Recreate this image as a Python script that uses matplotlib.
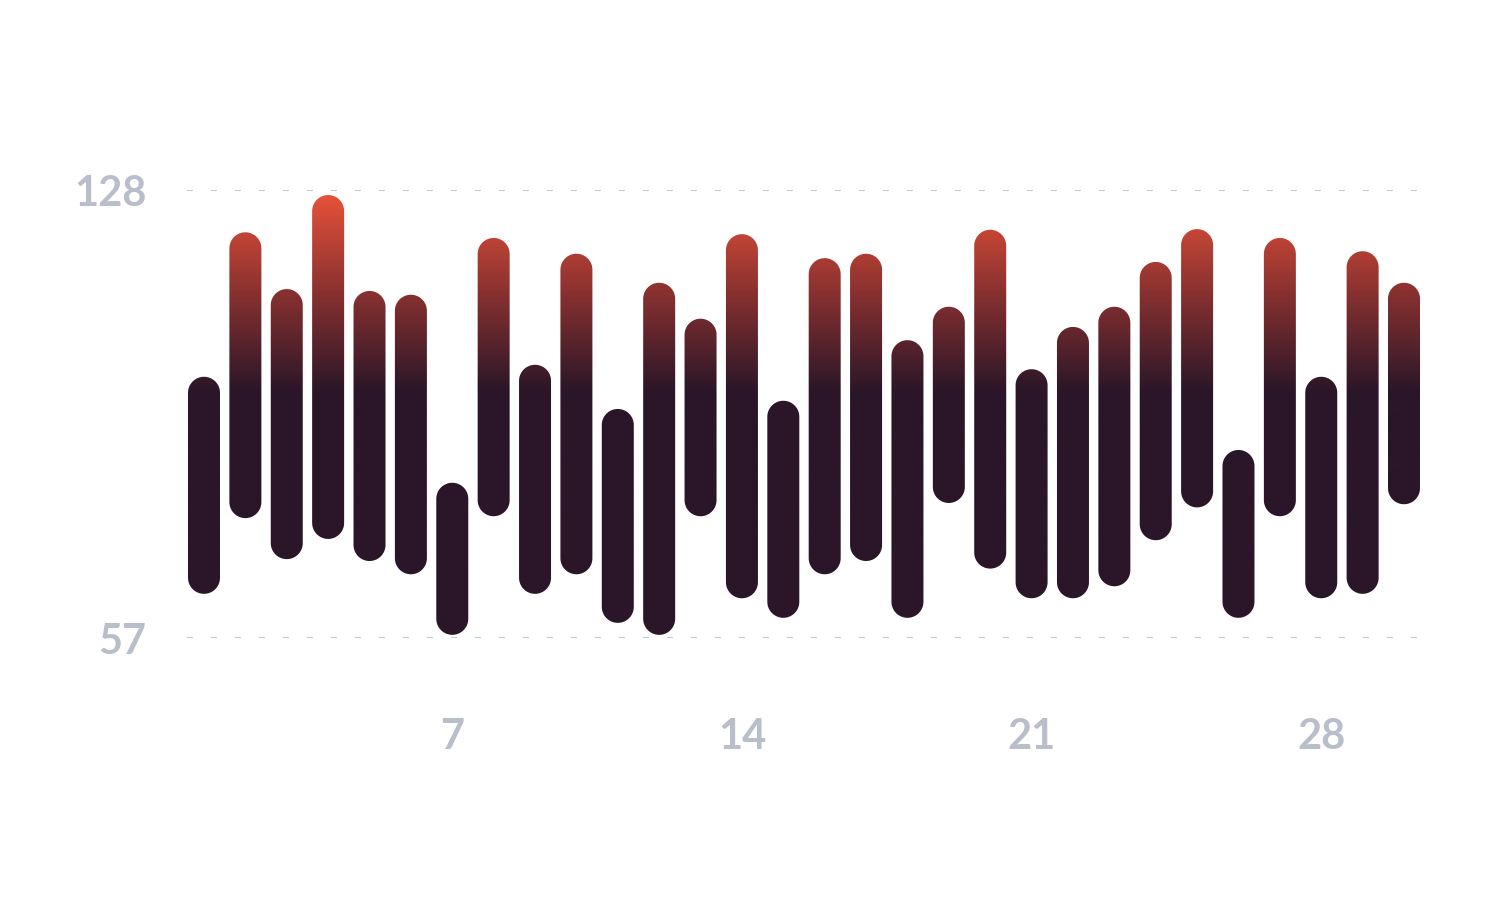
import numpy as np
import matplotlib
matplotlib.use("Agg")
import matplotlib.pyplot as plt
from matplotlib.colors import LinearSegmentedColormap
from matplotlib.patches import PathPatch
from matplotlib.path import Path

# data: one floating range per day
days = list(range(1, 31))
lows = [64.0, 76.0, 69.5, 72.7, 69.2, 67.1, 57.5, 76.3, 64.0, 67.1,
        59.4, 57.5, 76.3, 63.3, 60.2, 67.1, 69.2, 60.2, 78.4, 68.0,
        63.3, 63.3, 65.2, 72.5, 77.7, 60.2, 76.3, 63.3, 64.0, 78.2]
highs = [98.4, 121.3, 112.3, 127.2, 112.0, 111.4, 81.6, 120.4, 100.3, 117.9,
         93.3, 113.3, 107.6, 121.0, 94.6, 117.2, 117.9, 104.2, 109.5, 121.7,
         99.6, 106.3, 109.5, 116.6, 121.8, 86.8, 120.4, 98.4, 118.3, 113.3]
y_ticks = [57, 128]
x_ticks = [7, 14, 21, 28]

W, H = 1500, 904
fig = plt.figure(figsize=(W / 100, H / 100), dpi=100)
ax_left, ax_right, ax_top, ax_bottom = 187, 1420, 191, 639
ax = fig.add_axes([ax_left / W, 1 - ax_bottom / H, (ax_right - ax_left) / W, (ax_bottom - ax_top) / H])

px_per_day = (1404 - 204) / 29
xmin = 1 - (204 - ax_left) / px_per_day
xmax = 30 + (ax_right - 1404) / px_per_day
ymin, ymax = 57, 128
for s in ax.spines.values():
    s.set_visible(False)

grid_color = "#B8BECA"
for v in y_ticks:
    ax.axhline(v, color=grid_color, lw=1.2, ls=(0, (3.6, 10.8)), zorder=0)

# vertical gradient shared by every bar
cmap = LinearSegmentedColormap.from_list("heat", ["#2A1628", "#2A1628", "#8A3130", "#EA5339"])
grad_lo, grad_hi = 96.0, 128.0
ys = np.linspace(ymin, ymax, 400)
g = np.clip((ys - grad_lo) / (grad_hi - grad_lo), 0, 1)
g = 1 / 3 + g * 2 / 3
g[ys < grad_lo] = 0
img = g[:, None]

bar_px = 32
rx = bar_px / 2 / px_per_day
ry = bar_px / 2 * (ymax - ymin) / (ax_bottom - ax_top)


def stadium(xc, lo, hi):
    t_top = np.linspace(0, np.pi, 40)
    t_bot = np.linspace(np.pi, 2 * np.pi, 40)
    top = np.column_stack([xc + rx * np.cos(t_top), hi - ry + ry * np.sin(t_top)])
    bot = np.column_stack([xc + rx * np.cos(t_bot), lo + ry + ry * np.sin(t_bot)])
    verts = np.vstack([top, bot, top[:1]])
    codes = [Path.MOVETO] + [Path.LINETO] * (len(verts) - 2) + [Path.CLOSEPOLY]
    return Path(verts, codes)


for d, lo, hi in zip(days, lows, highs):
    patch = PathPatch(stadium(d, lo, hi), facecolor="none", edgecolor="none")
    ax.add_patch(patch)
    im = ax.imshow(img, cmap=cmap, vmin=0, vmax=1, origin="lower", aspect="auto",
                   extent=(xmin, xmax, ymin, ymax), interpolation="bilinear", zorder=2)
    im.set_clip_path(patch)

ax.set_xlim(xmin, xmax)
ax.set_ylim(ymin, ymax)

font = dict(family=["Lato", "DejaVu Sans"], weight="bold", color=grid_color, fontsize=30)
ax.set_xticks(x_ticks)
ax.set_xticklabels([str(t) for t in x_ticks], **font)
ax.set_yticks(y_ticks)
ax.set_yticklabels([str(t) for t in y_ticks], **font)
ax.tick_params(axis="both", length=0)
ax.tick_params(axis="x", pad=57)
ax.tick_params(axis="y", pad=29)

fig.savefig("out.png", dpi=100, facecolor="white")
